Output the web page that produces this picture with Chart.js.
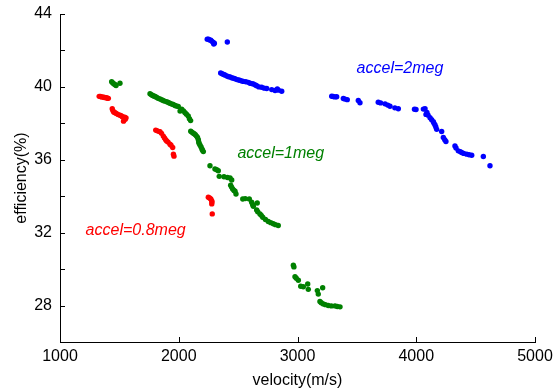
<!DOCTYPE html>
<html>
<head>
<meta charset="utf-8">
<script src="https://cdn.jsdelivr.net/npm/chart.js@4/dist/chart.umd.min.js"></script>
<style>
  html, body { margin: 0; padding: 0; background: #fff; }
  #wrap { width: 557px; height: 392px; }
</style>
</head>
<body>
<div id="wrap"><canvas id="c" width="557" height="392"></canvas></div>
<script>
// velocity (m/s), efficiency (%) pairs for each acceleration setting
const accel08Points = [
  [1330,39.48],[1340,39.47],[1350,39.45],[1360,39.44],[1370,39.43],[1380,39.41],[1390,39.4],[1400,39.38],[1407,39.37],
  [1440,38.8],[1445,38.7],[1452,38.62],[1460,38.6],[1470,38.56],[1480,38.52],[1490,38.48],[1505,38.45],[1515,38.42],
  [1525,38.36],[1533,38.34],[1545,38.33],[1556,38.3],[1550,38.22],[1535,38.12],
  [1806,37.63],[1815,37.6],[1830,37.56],[1842,37.54],[1855,37.45],[1870,37.3],[1880,37.2],[1890,37.1],[1898,37.03],
  [1910,36.97],[1926,36.85],[1935,36.8],[1949,36.67],[1955,36.3],[1960,36.2],
  [2249,33.94],[2260,33.9],[2270,33.85],[2277,33.75],[2280,33.68],[2278,33.58],[2282,33.03]
];
const accel1Points = [
  [1435,40.28],[1445,40.22],[1455,40.16],[1465,40.12],[1472,40.08],[1505,40.2],
  [1758,39.62],[1770,39.57],[1780,39.53],[1790,39.5],[1800,39.47],[1812,39.43],[1825,39.38],[1842,39.34],[1855,39.3],
  [1868,39.25],[1880,39.22],[1898,39.19],[1912,39.14],[1925,39.1],[1940,39.06],[1954,39.03],[1968,38.98],[1980,38.95],
  [1996,38.92],[2011,38.67],[2025,38.78],[2040,38.68],[2053,38.58],[2065,38.5],[2080,38.4],[2090,38.25],[2100,38.15],
  [2101,37.57],[2110,37.52],[2120,37.47],[2130,37.43],[2140,37.38],[2150,37.3],[2158,37.22],[2165,37.1],[2168,36.98],
  [2172,36.9],[2180,36.8],[2188,36.7],[2195,36.6],[2200,36.52],[2207,36.45],
  [2263,35.67],[2305,35.49],[2320,35.45],[2333,35.4],[2341,35.09],[2381,35.07],[2410,35.03],[2432,35.0],[2446,34.89],
  [2437,34.6],[2445,34.5],[2454,34.4],[2465,34.32],[2474,34.27],[2482,34.12],[2539,33.85],[2560,33.87],[2594,33.85],
  [2614,33.67],[2622,33.55],[2628,33.45],[2661,33.63],[2656,33.25],[2665,33.15],[2684,33.03],[2695,32.95],[2707,32.85],
  [2730,32.72],[2754,32.61],[2775,32.55],[2796,32.49],[2815,32.44],[2838,32.39],
  [2965,30.21],[2970,30.12],[2979,29.58],[2990,29.5],[3007,29.39],[3027,29.06],[3049,29.03],[3086,29.18],[3091,28.89],
  [3167,28.82],[3175,28.63],[3212,28.98],[3189,28.22],[3200,28.15],[3217,28.09],[3235,28.05],[3259,28.0],[3285,27.98],
  [3316,27.98],[3335,27.95],[3358,27.93]
];
const accel2Points = [
  [2240,42.62],[2250,42.62],[2260,42.58],[2270,42.56],[2280,42.5],[2290,42.44],[2300,42.4],[2295,42.35],[2409,42.46],
  [2353,40.76],[2365,40.72],[2378,40.68],[2389,40.65],[2405,40.6],[2420,40.56],[2432,40.55],[2445,40.5],[2460,40.47],
  [2474,40.45],[2490,40.4],[2505,40.38],[2516,40.36],[2530,40.33],[2544,40.3],[2565,40.28],[2586,40.25],[2600,40.2],
  [2615,40.18],[2628,40.16],[2645,40.1],[2656,40.06],[2675,40.0],[2698,39.98],[2720,39.93],[2741,39.91],[2783,39.85],
  [2811,39.8],[2830,39.89],[2840,39.82],[2867,39.76],
  [3288,39.49],[3300,39.47],[3315,39.45],[3330,39.46],[3386,39.36],[3400,39.33],[3419,39.3],[3512,39.25],[3526,39.13],
  [3680,39.16],[3700,39.12],[3737,39.07],[3760,39.0],[3779,38.94],[3820,38.85],[3849,38.8],[3985,38.77],[3998,38.76],
  [4060,38.78],[4074,38.8],[4082,38.49],[4090,38.6],[4100,38.45],[4116,38.31],[4130,38.2],[4144,38.09],[4150,38.0],
  [4158,37.91],[4165,37.8],[4172,37.67],[4214,37.55],[4228,37.22],[4240,37.1],[4250,37.0],[4326,36.76],[4335,36.65],
  [4354,36.49],[4370,36.45],[4382,36.4],[4400,36.35],[4425,36.31],[4445,36.28],[4467,36.25],[4565,36.18],[4621,35.67]
];

// axis ranges and labelled ticks
const xTickValues = [1000, 2000, 3000, 4000, 5000];
const yTickLabels = [28, 32, 36, 40, 44];

// in-plot annotations: text, anchor velocity, anchor efficiency
const noteTexts = ['accel=2meg', 'accel=1meg', 'accel=0.8meg'];
const noteVelocity = [3863, 2859, 1637];
const noteEfficiency = [41.02, 36.33, 32.12];
const noteColors = ['#0000ff', '#008000', '#ff0000'];

const FONT = "'Liberation Sans', Arial, Helvetica, sans-serif";

const toXY = pts => pts.map(p => ({ x: p[0], y: p[1] }));

// inward tick marks (drawn from the scales' own tick positions) plus annotations
const decorations = {
  id: 'decorations',
  afterDraw(chart) {
    const ctx = chart.ctx;
    const xs = chart.scales.x, ys = chart.scales.y;
    ctx.save();
    ctx.strokeStyle = '#000';
    ctx.lineWidth = 1;
    ctx.beginPath();
    xs.ticks.forEach(t => {
      const px = Math.round(xs.getPixelForValue(t.value)) + 0.5;
      ctx.moveTo(px, ys.bottom);
      ctx.lineTo(px, ys.bottom - 5);
    });
    ys.ticks.forEach(t => {
      const py = Math.round(ys.getPixelForValue(t.value)) + 0.5;
      ctx.moveTo(xs.left, py);
      ctx.lineTo(xs.left + 5, py);
    });
    ctx.stroke();

    ctx.font = 'italic 16px ' + FONT;
    ctx.textAlign = 'center';
    ctx.textBaseline = 'middle';
    noteTexts.forEach((txt, i) => {
      ctx.fillStyle = noteColors[i];
      ctx.fillText(txt, xs.getPixelForValue(noteVelocity[i]), ys.getPixelForValue(noteEfficiency[i]));
    });
    ctx.restore();
  }
};

const pointStyle = color => ({
  backgroundColor: color,
  borderColor: color,
  borderWidth: 0,
  pointRadius: 2.7,
  pointHoverRadius: 2.7
});

new Chart(document.getElementById('c'), {
  type: 'scatter',
  data: {
    datasets: [
      Object.assign({ label: 'accel=2meg', data: toXY(accel2Points) }, pointStyle('#0000ff')),
      Object.assign({ label: 'accel=1meg', data: toXY(accel1Points) }, pointStyle('#008000')),
      Object.assign({ label: 'accel=0.8meg', data: toXY(accel08Points) }, pointStyle('#ff0000'))
    ]
  },
  options: {
    responsive: false,
    animation: false,
    layout: { padding: { top: 14, right: 22, left: 0, bottom: 0 } },
    plugins: { legend: { display: false }, tooltip: { enabled: false } },
    scales: {
      x: {
        type: 'linear',
        min: xTickValues[0],
        max: xTickValues[xTickValues.length - 1],
        afterBuildTicks: s => { s.ticks = xTickValues.map(v => ({ value: v })); },
        ticks: {
          color: '#000',
          padding: 5,
          maxRotation: 0,
          font: { family: FONT, size: 16 },
          callback: v => String(v)
        },
        grid: { display: false, drawTicks: false },
        border: { display: true, color: '#000', width: 1 },
        title: { display: true, text: 'velocity(m/s)', color: '#000', font: { family: FONT, size: 16 }, padding: { top: 0, bottom: 2 } },
        afterFit: s => { s.height = 50; s.paddingLeft = 0; s.paddingRight = 0; }
      },
      y: {
        type: 'linear',
        min: 26,
        max: 44,
        ticks: {
          stepSize: 2,
          color: '#000',
          padding: 8,
          font: { family: FONT, size: 16 },
          callback: v => (yTickLabels.includes(v) ? String(v) : '')
        },
        grid: { display: false, drawTicks: false },
        border: { display: true, color: '#000', width: 1 },
        title: { display: true, text: 'efficiency(%)', color: '#000', font: { family: FONT, size: 16 }, padding: { top: 12, bottom: 0 } },
        afterFit: s => { s.width = 60; s.paddingTop = 0; s.paddingBottom = 0; }
      }
    }
  },
  plugins: [decorations]
});
</script>
</body>
</html>
